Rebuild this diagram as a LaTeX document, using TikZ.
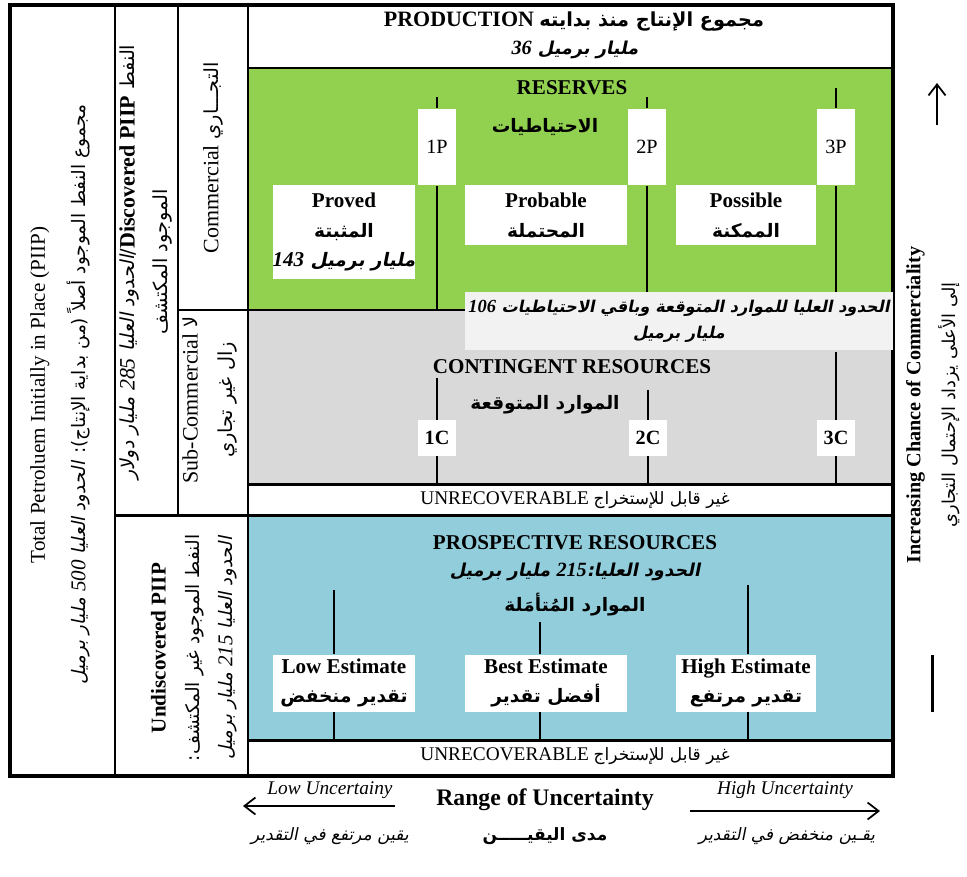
\documentclass[tikz,border=0pt]{standalone}
\usepackage{fontspec}
\setmainfont{Liberation Serif}
\newfontfamily\arabicfont[Script=Arabic,Scale=0.88,
  ItalicFont=DejaVu Sans,ItalicFeatures={FakeSlant=0.2},
  BoldItalicFont=DejaVu Sans Bold,BoldItalicFeatures={FakeSlant=0.2}]{DejaVu Sans}
\TeXXeTstate=1
\usetikzlibrary{arrows.meta,positioning}
\definecolor{resgreen}{HTML}{92D050}
\definecolor{congray}{HTML}{D9D9D9}
\definecolor{problue}{HTML}{92CDDC}
\definecolor{notegray}{HTML}{F2F2F2}
\newcommand{\artxt}[1]{{\arabicfont\beginR #1\endR}}
\newcommand{\lat}[1]{\beginL{\rmfamily #1}\endL{}}
\tikzset{
  txt/.style={font=\fontsize{11}{17}\selectfont, align=center, inner sep=1pt},
  hdr/.style={txt, font=\fontsize{12}{17}\selectfont\bfseries},
  catbox/.style={fill=white, align=center, inner sep=0pt, font=\fontsize{12}{17}\selectfont\bfseries},
  tagbox/.style={fill=white, inner sep=0pt, minimum width=0.76cm, font=\fontsize{11.5}{13}\selectfont},
  divline/.style={line width=1.7pt},
  frameline/.style={line width=2.4pt},
  tickline/.style={line width=0.6pt},
  arr/.style={-{Straight Barb[length=2.2mm,width=3.4mm]}, line width=1pt},
  sidetxt/.style={txt, rotate=90},
}
\begin{document}
\begin{tikzpicture}[x=0.02cm, y=-0.02cm]
  \useasboundingbox (0,0) rectangle (967,876);
  \fill[white] (0,0) rectangle (967,876);
  % class areas
  \fill[resgreen] (248,68) rectangle (893,310);
  \fill[congray] (248,310) rectangle (893,484);
  \fill[problue] (248,515) rectangle (893,740);
  \coordinate (gbot) at (248,310);
  \coordinate (cbot) at (248,484);
  \coordinate (bbot) at (248,740);
  % frame and dividers
  \draw[divline] (248,68) -- (893,68);
  \draw[divline] (248,310) -- (893,310);
  \draw[divline] (248,484) -- (893,484);
  \draw[divline] (115,515) -- (893,515);
  \draw[divline] (248,740) -- (893,740);
  \draw[divline] (115,5) -- (115,776);
  \draw[divline] (248,5) -- (248,776);
  \draw[line width=1.2pt] (178,5) -- (178,515);
  \draw[line width=1.2pt] (178,310) -- (248,310);
  \draw[frameline] (10,5) rectangle (893,776);

  % left columns
  \node[sidetxt, font=\fontsize{12}{23}\selectfont] (piip) at (60,395)
    {Total Petroluem Initially in Place (PIIP)\\\artxt{مجموع النفط الموجود أصلاً (من بداية الإنتاج): {\itshape الحدود العليا \lat{500} مليار برميل}}};
  \node[sidetxt, font=\fontsize{12.5}{19}\selectfont] (disc) at (146,262)
    {\artxt{النفط \lat{\bfseries Discovered PIIP}/{\itshape الحدود العليا \lat{285} مليار دولار}}\\\artxt{الموجود المكتشف}};
  \node[sidetxt, font=\fontsize{12.5}{17}\selectfont] (comm) at (213,158)
    {Commercial \artxt{التجـــاري}};
  \node[sidetxt, font=\fontsize{12.5}{20}\selectfont] (subc) at (210,400)
    {Sub-Commercial \artxt{لا}\\\artxt{زال غير تجاري}};
  \node[sidetxt, font=\fontsize{12}{19}\selectfont] (undisc) at (194,648)
    {\textbf{Undiscovered PIIP}\\\artxt{النفط الموجود غير المكتشف:}\\\artxt{\itshape الحدود العليا \lat{215} مليار برميل}};

  % production
  \node[hdr, font=\fontsize{12.5}{17}\selectfont\bfseries] (prod) at (574,22) {PRODUCTION \artxt{مجموع الإنتاج منذ بدايته}};
  \node[hdr, font=\fontsize{11.5}{15}\selectfont\bfseries\itshape] (prodamt) at (575,50) {\artxt{مليار برميل \lat{36}}};

  % reserves
  \node[hdr] (res) at (572,88) {RESERVES};
  \node[hdr] (resar) at (545,127) {\artxt{الاحتياطيات}};
  \node[tagbox, minimum height=1.54cm] (p1) at (437,147) {1P};
  \node[tagbox, minimum height=1.54cm] (p2) at (647,147) {2P};
  \node[tagbox, minimum height=1.54cm] (p3) at (836,147) {3P};
  \coordinate (p1top) at (437,97);
  \coordinate (p2top) at (647,97);
  \coordinate (p3top) at (836,88);
  \node[catbox, minimum width=2.84cm, minimum height=1.9cm] (proved) at (344,232)
    {Proved\\\artxt{المثبتة}\\{\itshape\artxt{مليار برميل \lat{143}}}};
  \node[catbox, minimum width=3.24cm, minimum height=1.2cm] (probable) at (546,215)
    {Probable\\\artxt{المحتملة}};
  \node[catbox, minimum width=2.82cm, minimum height=1.2cm] (possible) at (746,215)
    {Possible\\\artxt{الممكنة}};
  \node[fill=notegray, align=center, inner sep=0pt, minimum width=8.56cm, minimum height=1.16cm,
    font=\fontsize{10.5}{15}\selectfont\bfseries\itshape] (note) at (679,321)
    {\artxt{الحدود العليا للموارد المتوقعة وباقي الاحتياطيات \lat{106}}\\\artxt{مليار برميل}};
  \draw[tickline] (p1top) -- (p1.north);
  \draw[tickline] (p2top) -- (p2.north);
  \draw[tickline] (p3top) -- (p3.north);
  \draw[tickline] (p1.south) -- (p1.south |- gbot);
  \draw[tickline] (p2.south) -- (p2.south |- note.north);
  \draw[tickline] (p3.south) -- (p3.south |- note.north);

  % contingent resources
  \node[hdr] (cont) at (572,367) {CONTINGENT RESOURCES};
  \node[hdr] (contar) at (545,405) {\artxt{الموارد المتوقعة}};
  \node[tagbox, minimum height=0.72cm, font=\fontsize{11.5}{13}\selectfont\bfseries] (c1) at (437,438) {1C};
  \node[tagbox, minimum height=0.72cm, font=\fontsize{11.5}{13}\selectfont\bfseries] (c2) at (648,438) {2C};
  \node[tagbox, minimum height=0.72cm, font=\fontsize{11.5}{13}\selectfont\bfseries] (c3) at (836,438) {3C};
  \coordinate (c1top) at (437,378);
  \coordinate (c2top) at (648,390);
  \coordinate (c3top) at (836,352);
  \draw[tickline] (c1top) -- (c1.north);
  \draw[tickline] (c2top) -- (c2.north);
  \draw[tickline] (c3top) -- (c3.north);
  \draw[tickline] (c1.south) -- (c1.south |- cbot);
  \draw[tickline] (c2.south) -- (c2.south |- cbot);
  \draw[tickline] (c3.south) -- (c3.south |- cbot);
  \node[txt] (unrec1) at (575,500) {UNRECOVERABLE \artxt{غير قابل للإستخراج}};

  % prospective resources
  \node[hdr] (pros) at (575,543) {PROSPECTIVE RESOURCES};
  \node[hdr, font=\fontsize{11.5}{15}\selectfont\bfseries\itshape] (prosamt) at (575,572)
    {\artxt{الحدود العليا:\lat{215} مليار برميل}};
  \node[hdr] (prosar) at (575,605) {\artxt{الموارد المُتأمَلة}};
  \node[catbox, minimum width=2.84cm, minimum height=1.14cm] (low) at (344,683)
    {Low Estimate\\\artxt{تقدير منخفض}};
  \node[catbox, minimum width=3.24cm, minimum height=1.14cm] (best) at (546,683)
    {Best Estimate\\\artxt{أفضل تقدير}};
  \node[catbox, minimum width=2.82cm, minimum height=1.14cm] (high) at (746,683)
    {High Estimate\\\artxt{تقدير مرتفع}};
  \coordinate (lowtop) at (334,590);
  \coordinate (besttop) at (540,622);
  \coordinate (hightop) at (748,585);
  \draw[tickline] (lowtop) -- (lowtop |- low.north);
  \draw[tickline] (besttop) -- (besttop |- best.north);
  \draw[tickline] (hightop) -- (hightop |- high.north);
  \draw[tickline] (lowtop |- low.south) -- (lowtop |- bbot);
  \draw[tickline] (besttop |- best.south) -- (besttop |- bbot);
  \draw[tickline] (hightop |- high.south) -- (hightop |- bbot);
  \node[txt] (unrec2) at (575,756) {UNRECOVERABLE \artxt{غير قابل للإستخراج}};

  % range of uncertainty
  \node[txt, font=\fontsize{13.5}{16}\selectfont\bfseries] (range) at (545,800) {Range of Uncertainty};
  \node[txt, font=\fontsize{11}{13}\selectfont\itshape] (lowunc) at (330,790) {Low Uncertainy};
  \node[txt, font=\fontsize{11}{13}\selectfont\itshape] (highunc) at (785,790) {High Uncertainty};
  \node[txt, font=\fontsize{11}{13}\selectfont\itshape] (lowunar) at (330,836) {\artxt{يقين مرتفع في التقدير}};
  \node[txt, font=\fontsize{11}{13}\selectfont\bfseries] (rangear) at (545,836) {\artxt{مدى اليقيـــــن}};
  \node[txt, font=\fontsize{11}{13}\selectfont\itshape] (highunar) at (787,836) {\artxt{يقـين منخفض في التقدير}};
  \coordinate (lowarra) at (395,806);
  \coordinate (lowarrb) at (243,806);
  \coordinate (higharra) at (690,811);
  \coordinate (higharrb) at (880,811);
  \draw[arr] (lowarra) -- (lowarrb);
  \draw[arr] (higharra) -- (higharrb);

  % chance of commerciality
  \node[sidetxt, font=\fontsize{11.5}{20}\selectfont] (chance) at (933,405)
    {\textbf{Increasing Chance of Commerciality}\\\artxt{إلى الأعلى يزداد الإحتمال التجاري}};
  \coordinate (chancea) at (937,125);
  \coordinate (chanceb) at (937,83);
  \coordinate (taila) at (932,655);
  \coordinate (tailb) at (932,712);
  \draw[arr] (chancea) -- (chanceb);
  \draw[line width=1.7pt] (taila) -- (tailb);
\end{tikzpicture}
\end{document}
